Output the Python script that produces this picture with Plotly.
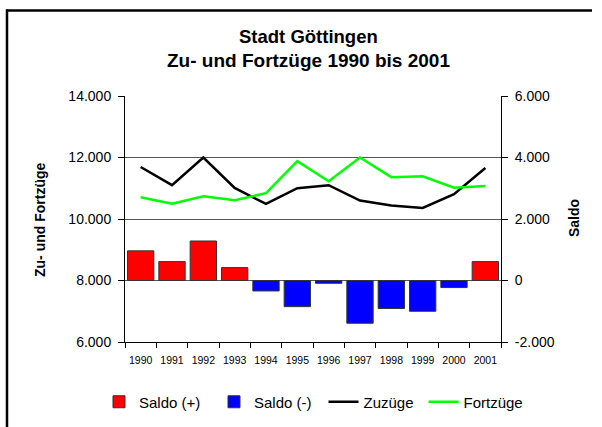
import plotly.graph_objects as go

years = ["1990", "1991", "1992", "1993", "1994", "1995", "1996", "1997", "1998", "1999", "2000", "2001"]
zuzuege = [11690, 11100, 12000, 11010, 10490, 11000, 11100, 10600, 10440, 10360, 10810, 11660]
fortzuege = [10710, 10500, 10740, 10610, 10840, 11880, 11230, 12000, 11360, 11390, 11020, 11070]
saldo = [965, 615, 1285, 420, -340, -850, -90, -1390, -910, -1000, -230, 615]

saldo_pos = [v if v > 0 else None for v in saldo]
saldo_neg = [v if v < 0 else None for v in saldo]

FONT = "Arial, Liberation Sans, sans-serif"
L, T, W, H = 125, 96, 376, 246


def px(x):
    return (x - L) / W


def py(y):
    return (T + H - y) / H


fig = go.Figure()
fig.add_trace(go.Bar(x=years, y=saldo_pos, name="Saldo (+)", yaxis="y2", legend="legend",
                     marker=dict(color="#FF0000", line=dict(color="#333333", width=1))))
fig.add_trace(go.Bar(x=years, y=saldo_neg, name="Saldo (-)", yaxis="y2", legend="legend2",
                     marker=dict(color="#0000FF", line=dict(color="#333333", width=1))))
fig.add_trace(go.Scatter(x=years, y=zuzuege, name="Zuzüge", mode="lines", legend="legend3",
                         line=dict(color="#000000", width=2.5)))
fig.add_trace(go.Scatter(x=years, y=fortzuege, name="Fortzüge", mode="lines", legend="legend4",
                         line=dict(color="#00FF00", width=2.5)))

leg_common = dict(orientation="h", xanchor="left", yanchor="middle", yref="container",
                  y=(427 - 402) / 427,
                  font=dict(size=15), bgcolor="rgba(0,0,0,0)", borderwidth=0)

fig.update_layout(
    width=602, height=427,
    margin=dict(l=L, r=602 - L - W, t=T, b=427 - T - H),
    paper_bgcolor="white", plot_bgcolor="white",
    font=dict(family=FONT, color="black"),
    showlegend=True,
    barmode="overlay", bargap=0.16,
    xaxis=dict(type="category", tickson="boundaries", ticks="outside", ticklen=5,
               tickcolor="black", showline=True, linecolor="black", linewidth=1,
               mirror=False, showgrid=False, tickfont=dict(size=10.5), tickangle=0,
               ticklabelstandoff=8),
    yaxis=dict(range=[6000, 14000], tickvals=[6000, 8000, 10000, 12000, 14000],
               ticktext=["6.000", "8.000", "10.000", "12.000", "14.000"],
               ticks="outside", ticklen=6, tickcolor="black", showline=True,
               linecolor="black", linewidth=1, showgrid=True, gridcolor="#555555",
               gridwidth=1, zeroline=False, tickfont=dict(size=14), ticklabelstandoff=4),
    yaxis2=dict(range=[-2000, 6000], tickvals=[-2000, 0, 2000, 4000, 6000],
                ticktext=["-2.000", "0", "2.000", "4.000", "6.000"],
                overlaying="y", side="right", ticks="outside", ticklen=6,
                tickcolor="black", showline=True, linecolor="black", linewidth=1,
                showgrid=False, zeroline=False, tickfont=dict(size=14), ticklabelstandoff=4),
    legend=dict(leg_common, x=px(99)),
    legend2=dict(leg_common, x=px(214)),
    legend3=dict(leg_common, x=px(323.5)),
    legend4=dict(leg_common, x=px(423.5)),
    annotations=[
        dict(text="<b>Stadt Göttingen</b>", x=px(308), y=py(36.5), xref="paper", yref="paper",
             showarrow=False, font=dict(size=18.5), xanchor="center", yanchor="middle"),
        dict(text="<b>Zu- und Fortzüge 1990 bis 2001</b>", x=px(308), y=py(60),
             xref="paper", yref="paper", showarrow=False, font=dict(size=19),
             xanchor="center", yanchor="middle"),
        dict(text="<b>Zu- und Fortzüge</b>", x=px(40), y=py(220), xref="paper", yref="paper",
             showarrow=False, textangle=-90, font=dict(size=14), xanchor="center", yanchor="middle"),
        dict(text="<b>Saldo</b>", x=px(574), y=py(218), xref="paper", yref="paper",
             showarrow=False, textangle=-90, font=dict(size=14), xanchor="center", yanchor="middle"),
    ],
    shapes=[
        dict(type="line", xref="paper", yref="paper", x0=px(6), x1=px(592), y0=py(10.5), y1=py(10.5),
             line=dict(color="black", width=2.5), layer="below"),
        dict(type="line", xref="paper", yref="paper", x0=px(7), x1=px(7), y0=py(9.5), y1=py(427),
             line=dict(color="black", width=2.5), layer="below"),
    ],
)

fig.write_html("out.html", config={"displayModeBar": False},
               post_script="document.body.style.margin='0';"
                           "document.body.style.overflow='hidden';"
                           "document.documentElement.style.overflow='hidden';")
